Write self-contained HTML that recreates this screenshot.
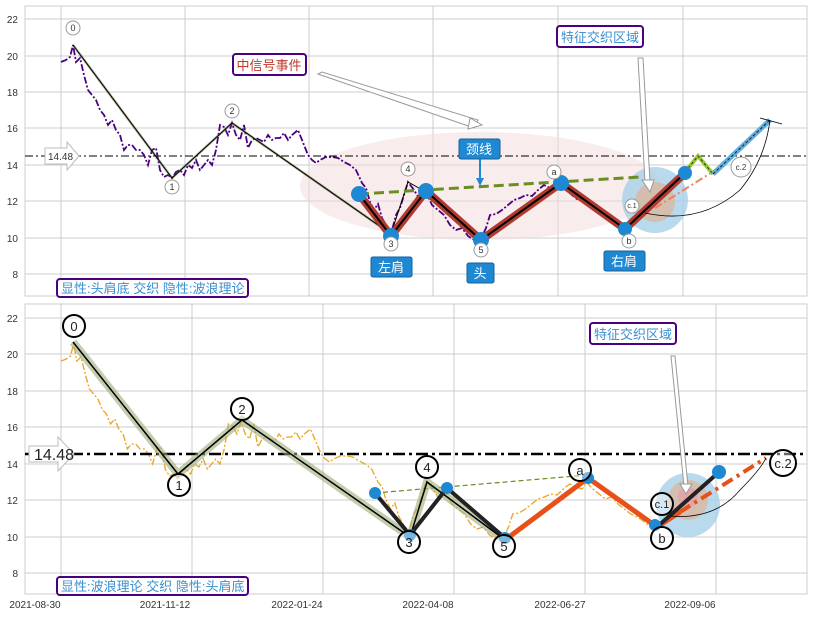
<!DOCTYPE html>
<html><head><meta charset="utf-8">
<style>
html,body{margin:0;padding:0;background:#fff;}
svg{display:block;font-family:"Liberation Sans","Noto Sans CJK SC",sans-serif;}
</style></head>
<body>
<svg width="813" height="617" viewBox="0 0 813 617" xmlns="http://www.w3.org/2000/svg">
<defs>
<polyline id="price" fill="none" points="61,62 66,60 70,57 73,45 76,62 80,58 84,75 88,90 92,95 96,100 100,110 104,115 108,125 112,120 116,130 120,135 124,150 128,145 132,145 136,150 140,150 144,155 148,165 152,150 156,148 160,170 164,177 168,175 172,178 176,172 180,170 184,175 188,165 192,168 196,160 200,170 204,165 208,160 212,165 216,150 220,125 224,127 228,135 232,123 236,135 240,140 244,125 248,148 252,140 256,138 260,140 264,142 268,135 272,140 276,138 280,138 284,133 288,140 292,135 298,130 302,140 308,155 312,160 316,163 320,160 326,157 332,157 338,158 344,162 350,165 356,170 362,183 366,188 370,202 374,210 378,204 382,218 386,225 391,234 396,215 400,208 404,195 408,182 414,190 420,200 426,192 432,205 438,210 444,215 450,225 456,230 462,228 468,236 474,240 480,241 486,228 490,215 496,214 502,210 508,205 514,200 520,198 526,195 532,196 538,190 544,185 550,188 556,190 560,183 566,190 572,195 578,200 584,198 590,205 596,210 602,215 608,218 614,222 620,227 625,229"/>
</defs>

<!-- ===== TOP PANEL ===== -->
<rect x="25" y="6" width="782" height="290" fill="#fff" stroke="#ccc"/>
<g stroke="#ccc" stroke-width="1">
<line x1="25" x2="807" y1="19" y2="19"/><line x1="25" x2="807" y1="56" y2="56"/><line x1="25" x2="807" y1="92" y2="92"/><line x1="25" x2="807" y1="128" y2="128"/><line x1="25" x2="807" y1="165" y2="165"/><line x1="25" x2="807" y1="201" y2="201"/><line x1="25" x2="807" y1="238" y2="238"/><line x1="25" x2="807" y1="274" y2="274"/>
<line y1="6" y2="296" x1="61" x2="61"/><line y1="6" y2="296" x1="185" x2="185"/><line y1="6" y2="296" x1="309" x2="309"/><line y1="6" y2="296" x1="433" x2="433"/><line y1="6" y2="296" x1="558" x2="558"/><line y1="6" y2="296" x1="683" x2="683"/>
</g>
<g font-size="10" fill="#333" text-anchor="end">
<text x="18" y="23">22</text><text x="18" y="60">20</text><text x="18" y="96">18</text><text x="18" y="132">16</text><text x="18" y="169">14</text><text x="18" y="205">12</text><text x="18" y="242">10</text><text x="18" y="278">8</text>
</g>
<ellipse cx="480" cy="186" rx="180" ry="54" fill="#f3dada" opacity="0.5"/>
<line x1="25" x2="807" y1="156" y2="156" stroke="#000" stroke-width="1" stroke-dasharray="8,3,2,3"/>
<path d="M45,148 h22 v-6 l12,14 l-12,14 v-6 h-22z" fill="#fff" stroke="#bbb"/>
<text x="48" y="160" font-size="10" fill="#333">14.48</text>
<use href="#price" stroke="#4b0082" stroke-width="1.8" stroke-dasharray="7,2,2,2"/>
<circle cx="655" cy="200" r="33" fill="#a8cfe8" opacity="0.8"/>
<circle cx="655" cy="202" r="20" fill="#d9b6a0" opacity="0.8"/>
<polyline points="73,45 172,178 232,123 391,234" fill="none" stroke="#556b2f" stroke-width="2.5" opacity="0.5"/>
<polyline points="73,45 172,178 232,123 391,234" fill="none" stroke="#000" stroke-width="1"/>
<polyline points="391,234 408,182 426,192" fill="none" stroke="#000" stroke-width="1"/>
<line x1="359" y1="194" x2="640" y2="177" stroke="#6b8e23" stroke-width="3" stroke-dasharray="10,5"/>
<polyline points="359,194 391,236 426,191 481,240 561,183 625,229 685,173" fill="none" stroke="#b03a2e" stroke-width="8"/>
<polyline points="359,194 391,236 426,191 481,240 561,183 625,229 685,173" fill="none" stroke="#000" stroke-width="2"/>
<line x1="655" y1="208" x2="725" y2="164" stroke="#f08060" stroke-width="2" stroke-dasharray="8,3,2,3"/>
<polyline points="685,172 698,156 713,174" fill="none" stroke="#9acd32" stroke-width="4"/>
<polyline points="685,172 698,156 713,174" fill="none" stroke="#333" stroke-width="1" stroke-dasharray="3,2"/>
<line x1="713" y1="174" x2="770" y2="120" stroke="#5dade2" stroke-width="5"/>
<line x1="713" y1="174" x2="770" y2="120" stroke="#222" stroke-width="1" stroke-dasharray="3,2"/>
<path d="M645,213 Q700,225 740,190 Q765,160 770,120" fill="none" stroke="#000" stroke-width="0.8"/>
<path d="M760,118 L782,124" stroke="#000" stroke-width="0.8"/>
<g fill="#1f88d2">
<circle cx="359" cy="194" r="8"/><circle cx="391" cy="236" r="8"/><circle cx="426" cy="191" r="8"/><circle cx="481" cy="240" r="8"/><circle cx="561" cy="183" r="8"/><circle cx="625" cy="229" r="7"/><circle cx="685" cy="173" r="7"/>
</g>
<g fill="#fff" stroke="#999" font-size="9" text-anchor="middle">
<circle cx="73" cy="28" r="7"/><circle cx="172" cy="187" r="7"/><circle cx="232" cy="111" r="7"/><circle cx="391" cy="244" r="7"/><circle cx="408" cy="169" r="7"/><circle cx="481" cy="250" r="7"/><circle cx="554" cy="172" r="7"/><circle cx="629" cy="241" r="7"/><circle cx="632" cy="206" r="7"/><circle cx="741" cy="167" r="10"/>
</g>
<g font-size="9" fill="#333" text-anchor="middle">
<text x="73" y="31">0</text><text x="172" y="190">1</text><text x="232" y="114">2</text><text x="391" y="247">3</text><text x="408" y="172">4</text><text x="481" y="253">5</text><text x="554" y="175">a</text><text x="629" y="244">b</text><text x="632" y="208" font-size="7">c.1</text><text x="741" y="170" font-size="8">c.2</text>
</g>
<polygon points="318,74 322,72 478,120 474,128" fill="#fff" stroke="#999"/>
<polygon points="470,118 482,125 468,129" fill="#fff" stroke="#999"/>
<polygon points="638,58 643,58 650,182 645,182" fill="#fff" stroke="#999"/>
<polygon points="642,180 654,180 650,192" fill="#fff" stroke="#999"/>
<line x1="480" y1="158" x2="480" y2="182" stroke="#1f88d2" stroke-width="2"/>
<polygon points="476,178 484,178 480,186" fill="#1f88d2"/>
<rect x="233" y="54" width="73" height="21" rx="3" fill="#fff" stroke="#4b0082" stroke-width="2"/>
<text x="269" y="70" font-size="13" fill="#c0392b" text-anchor="middle">中信号事件</text>
<rect x="557" y="26" width="86" height="21" rx="3" fill="#fff" stroke="#4b0082" stroke-width="2"/>
<text x="600" y="42" font-size="13" fill="#3a8fd0" text-anchor="middle">特征交织区域</text>
<rect x="459" y="139" width="41" height="20" rx="2" fill="#1f88d2" stroke="#17609a"/>
<text x="479" y="154" font-size="13" fill="#fff" text-anchor="middle">颈线</text>
<rect x="371" y="257" width="41" height="20" rx="2" fill="#1f88d2" stroke="#17609a"/>
<text x="391" y="272" font-size="13" fill="#fff" text-anchor="middle">左肩</text>
<rect x="467" y="263" width="27" height="20" rx="2" fill="#1f88d2" stroke="#17609a"/>
<text x="480" y="278" font-size="13" fill="#fff" text-anchor="middle">头</text>
<rect x="604" y="251" width="41" height="20" rx="2" fill="#1f88d2" stroke="#17609a"/>
<text x="624" y="266" font-size="13" fill="#fff" text-anchor="middle">右肩</text>
<rect x="57" y="279" width="191" height="18" rx="3" fill="#fff" stroke="#4b0082" stroke-width="2"/>
<text x="61" y="293" font-size="13" fill="#3a8fd0">显性:头肩底 交织 隐性:波浪理论</text>

<!-- ===== BOTTOM PANEL ===== -->
<rect x="25" y="304" width="782" height="290" fill="#fff" stroke="#ccc"/>
<g stroke="#ccc" stroke-width="1">
<line x1="25" x2="807" y1="318" y2="318"/><line x1="25" x2="807" y1="354" y2="354"/><line x1="25" x2="807" y1="391" y2="391"/><line x1="25" x2="807" y1="427" y2="427"/><line x1="25" x2="807" y1="464" y2="464"/><line x1="25" x2="807" y1="500" y2="500"/><line x1="25" x2="807" y1="537" y2="537"/><line x1="25" x2="807" y1="573" y2="573"/>
<line y1="304" y2="594" x1="61" x2="61"/><line y1="304" y2="594" x1="192" x2="192"/><line y1="304" y2="594" x1="323" x2="323"/><line y1="304" y2="594" x1="454" x2="454"/><line y1="304" y2="594" x1="585" x2="585"/><line y1="304" y2="594" x1="716" x2="716"/>
</g>
<g font-size="10" fill="#333" text-anchor="end">
<text x="18" y="322">22</text><text x="18" y="358">20</text><text x="18" y="395">18</text><text x="18" y="431">16</text><text x="18" y="468">14</text><text x="18" y="504">12</text><text x="18" y="541">10</text><text x="18" y="577">8</text>
</g>
<g font-size="10" fill="#333" text-anchor="middle">
<text x="35" y="608">2021-08-30</text><text x="165" y="608">2021-11-12</text><text x="297" y="608">2022-01-24</text><text x="428" y="608">2022-04-08</text><text x="560" y="608">2022-06-27</text><text x="690" y="608">2022-09-06</text>
</g>
<g transform="translate(61,299) scale(1.053,1) translate(-61,0)">
<use href="#price" stroke="#e8a828" stroke-width="1.3" stroke-dasharray="7,2,2,2"/>
</g>
<line x1="25" x2="807" y1="454" y2="454" stroke="#000" stroke-width="2.5" stroke-dasharray="12,4,3,4"/>
<circle cx="688" cy="505" r="32" fill="#a8cfe8" opacity="0.8"/>
<circle cx="688" cy="500" r="20" fill="#d9b6a0" opacity="0.8"/>
<circle cx="688" cy="497" r="10" fill="#e6a0a8" opacity="0.8"/>
<line x1="375" y1="493" x2="588" y2="475" stroke="#6b8e23" stroke-width="1.2" stroke-dasharray="5,3"/>
<polyline points="73,342 178,474 242,420 410,537 427,482 505,540" fill="none" stroke="#9cad78" stroke-width="8" opacity="0.6"/>
<polyline points="73,342 178,474 242,420 410,537 427,482 505,540" fill="none" stroke="#000" stroke-width="1.5"/>
<polyline points="375,493 410,535 447,488 505,538" fill="none" stroke="#222" stroke-width="4"/>
<polyline points="505,540 588,478 657,527 680,512" fill="none" stroke="#e8501a" stroke-width="5"/>
<line x1="657" y1="527" x2="719" y2="472" stroke="#222" stroke-width="4"/>
<line x1="680" y1="512" x2="766" y2="458" stroke="#e8501a" stroke-width="4" stroke-dasharray="12,5,3,5"/>
<path d="M670,516 Q715,520 740,490 Q760,470 766,458" fill="none" stroke="#000" stroke-width="0.8"/>
<g fill="#1f88d2">
<circle cx="375" cy="493" r="6"/><circle cx="410" cy="535" r="6"/><circle cx="447" cy="488" r="6"/><circle cx="505" cy="538" r="6"/><circle cx="588" cy="478" r="6"/><circle cx="655" cy="525" r="6"/><circle cx="719" cy="472" r="7"/>
</g>
<g fill="#fff" fill-opacity="0.4" stroke="#000" stroke-width="2">
<circle cx="74" cy="326" r="11"/><circle cx="179" cy="485" r="11"/><circle cx="242" cy="409" r="11"/><circle cx="409" cy="542" r="11"/><circle cx="427" cy="467" r="11"/><circle cx="504" cy="546" r="11"/><circle cx="580" cy="470" r="11"/><circle cx="662" cy="538" r="11"/><circle cx="662" cy="504" r="11"/><circle cx="783" cy="463" r="13"/>
</g>
<g font-size="13" fill="#222" text-anchor="middle">
<text x="74" y="331">0</text><text x="179" y="490">1</text><text x="242" y="414">2</text><text x="409" y="547">3</text><text x="427" y="472">4</text><text x="504" y="551">5</text><text x="580" y="475">a</text><text x="662" y="543">b</text><text x="662" y="508" font-size="11">c.1</text><text x="783" y="468">c.2</text>
</g>
<polygon points="671,356 675,356 688,486 684,486" fill="#fff" stroke="#999"/>
<polygon points="680,484 692,484 686,494" fill="#fff" stroke="#999"/>
<path d="M29,446 h29 v-9 l16,17 l-16,17 v-9 h-29z" fill="#fff" stroke="#bbb"/>
<text x="34" y="460" font-size="16" fill="#222">14.48</text>
<rect x="590" y="323" width="86" height="21" rx="3" fill="#fff" stroke="#4b0082" stroke-width="2"/>
<text x="633" y="339" font-size="13" fill="#3a8fd0" text-anchor="middle">特征交织区域</text>
<rect x="57" y="577" width="191" height="18" rx="3" fill="#fff" stroke="#4b0082" stroke-width="2"/>
<text x="61" y="591" font-size="13" fill="#3a8fd0">显性:波浪理论 交织 隐性:头肩底</text>
</svg>
</body></html>
